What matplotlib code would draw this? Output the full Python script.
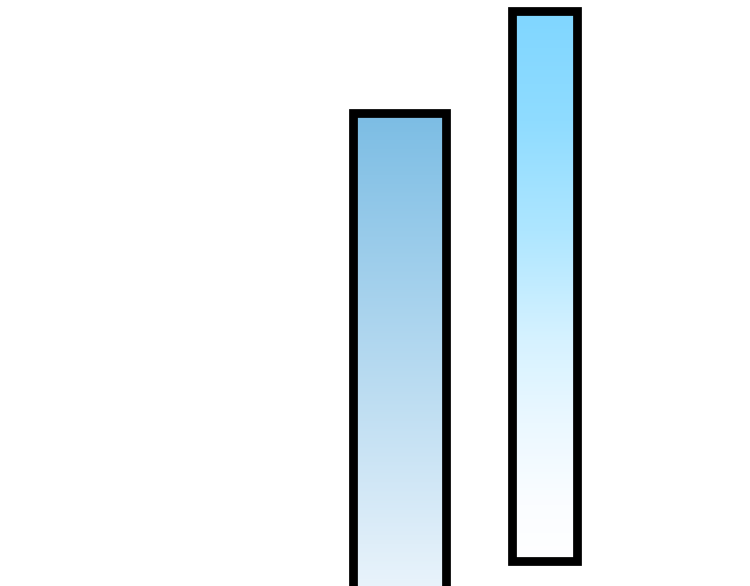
import matplotlib
matplotlib.use('Agg')
import matplotlib.pyplot as plt
import numpy as np
from matplotlib.colors import LinearSegmentedColormap

# bars: centre, width, base and top in the chart's value units
names = ['first', 'second']
centres = [399.5, 544.0]
widths = [93.0, 65.0]
bases = [-20.0, 25.0]
tops = [473.0, 575.5]

# gradient stops for each bar, from bottom (0) to top (1)
grad1 = [(0.0, '#edf5fc'), (1.0, '#7cbde4')]
grad2 = [(0.0, '#ffffff'), (0.1, '#fbfdff'), (0.25, '#ebf8ff'),
         (0.4, '#d6f2ff'), (0.6, '#aee6ff'), (0.8, '#8fdcff'), (1.0, '#80d6ff')]

fig = plt.figure(figsize=(7.5, 5.86), dpi=100)
ax = fig.add_axes([0, 0, 1, 1])
ax.set_xlim(0, 750)
ax.set_ylim(0, 586)
ax.axis('off')

for i in range(len(names)):
    stops = grad1 if i == 0 else grad2
    cmap = LinearSegmentedColormap.from_list('g%d' % i, stops)
    left = centres[i] - widths[i] / 2
    right = centres[i] + widths[i] / 2
    bar = ax.bar(centres[i], tops[i] - bases[i], width=widths[i], bottom=bases[i],
                 facecolor='none', edgecolor='black', linewidth=6.3, zorder=3)[0]
    img = ax.imshow(np.linspace(0, 1, 256).reshape(-1, 1), cmap=cmap, origin='lower',
                    extent=[left, right, bases[i], tops[i]], aspect='auto', zorder=2)
    img.set_clip_path(bar)

ax.set_xlim(0, 750)
ax.set_ylim(0, 586)
fig.savefig('out.png', dpi=100)
